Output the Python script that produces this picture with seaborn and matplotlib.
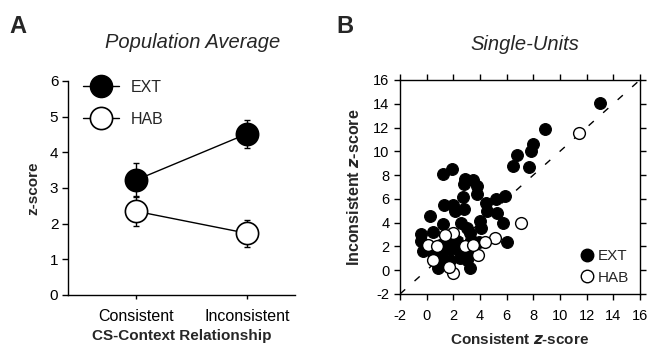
import numpy as np
import pandas as pd
import matplotlib
matplotlib.use("Agg")
import matplotlib.pyplot as plt
from matplotlib.lines import Line2D
import seaborn as sns

# ---------------- data ----------------
conditions = ["Consistent", "Inconsistent"]
ext_mean = [3.22, 4.52]
ext_sem = [0.47, 0.40]
hab_mean = [2.35, 1.73]
hab_sem = [0.42, 0.38]

ext_x = [13.0, 8.9, 8.0, 7.85, 6.8, 6.5, 7.7, 1.2, 1.9, 2.9, 3.45, 2.8, 3.75, 3.8, 2.75,
         5.85, 5.2, 4.45, 1.3, 2.0, 2.1, 2.8, 4.5, 5.3, 0.25, 4.0, 2.6, 5.75, 1.25, 4.1,
         3.05, 0.5, 3.25, -0.45, -0.45, 6.0, 3.95, 3.35, 1.85, 2.25, 1.5, 1.0, 0.0, -0.25,
         0.5, 1.25, 1.85, 2.5, 3.1, 1.0, 1.75, 2.5, 3.25, 0.85, 2.25, 3.0]
ext_y = [14.1, 11.9, 10.6, 10.0, 9.7, 8.8, 8.7, 8.1, 8.5, 7.7, 7.6, 7.25, 7.05, 6.45, 6.2,
         6.25, 5.95, 5.65, 5.5, 5.45, 4.95, 5.15, 4.95, 4.85, 4.55, 4.1, 4.0, 3.95, 3.85, 3.55,
         3.55, 3.25, 3.15, 3.05, 2.45, 2.35, 2.35, 2.55, 2.85, 2.45, 2.45, 2.15, 2.0, 1.6,
         1.45, 1.65, 1.75, 1.6, 1.45, 0.9, 0.9, 1.05, 0.2, 0.2, 2.0, 0.9]
hab_x = [11.4, 7.1, 5.1, 4.35, 3.85, 2.0, 1.7, 0.5, 0.1, 2.0, 1.35, 2.85, 0.75, 3.5]
hab_y = [11.5, 4.0, 2.75, 2.35, 1.3, -0.25, 0.25, 0.9, 2.15, 3.1, 3.0, 2.0, 2.0, 2.15]

# ---------------- style ----------------
sns.set_theme(style="ticks")
plt.rcParams["font.family"] = ["Liberation Sans", "DejaVu Sans"]
plt.rcParams["axes.unicode_minus"] = False
plt.rcParams["axes.linewidth"] = 1.0
plt.rcParams["xtick.major.width"] = 1.0
plt.rcParams["ytick.major.width"] = 1.0
plt.rcParams["xtick.major.size"] = 4
plt.rcParams["ytick.major.size"] = 4
plt.rcParams["xtick.color"] = "black"
plt.rcParams["ytick.color"] = "black"
plt.rcParams["axes.edgecolor"] = "black"

fig = plt.figure(figsize=(6.5, 3.46), dpi=100)
axA = fig.add_axes([0.1046, 0.1474, 0.349, 0.6185])
axB = fig.add_axes([0.6154, 0.1503, 0.369, 0.6185])

# ---------------- panel A ----------------
xpos = [0, 1]
dfA = pd.DataFrame({
    "x": xpos * 2,
    "z": ext_mean + hab_mean,
    "group": ["EXT"] * 2 + ["HAB"] * 2,
})
axA.errorbar(xpos, ext_mean, yerr=ext_sem, fmt="none", ecolor="black",
             elinewidth=1, capsize=2.5, zorder=2)
axA.errorbar(xpos, hab_mean, yerr=hab_sem, fmt="none", ecolor="black",
             elinewidth=1, capsize=2.5, zorder=2)
sns.lineplot(data=dfA, x="x", y="z", hue="group", style="group",
             palette={"EXT": "black", "HAB": "black"},
             markers={"EXT": "o", "HAB": "o"}, dashes=False,
             linewidth=1, ax=axA, legend=False, zorder=3)
data_lines = [ln for ln in axA.lines if len(ln.get_xdata()) == 2]
for ln, face in zip(data_lines[-2:], ["black", "white"]):
    ln.set_markersize(16)
    ln.set_markerfacecolor(face)
    ln.set_markeredgecolor("black")
    ln.set_markeredgewidth(1.2)
    ln.set_zorder(4)

axA.set_xlim(-0.61, 1.43)
axA.set_ylim(0, 6)
axA.set_yticks(range(0, 7))
axA.set_xticks(xpos)
axA.set_xticklabels(conditions, fontsize=11.5)
axA.tick_params(axis="y", labelsize=11, direction="out", pad=3)
axA.tick_params(axis="x", direction="out", length=3, pad=7)
axA.set_xlabel("CS-Context Relationship", fontsize=11, fontweight="bold", labelpad=4)
axA.set_ylabel("z-score", fontsize=11, fontweight="bold", labelpad=7)
sns.despine(ax=axA)
axA.text(0.55, 1.178, "Population Average", transform=axA.transAxes,
         fontsize=14.5, style="italic", ha="center", va="center")

legA = [Line2D([0], [0], color="black", lw=1, marker="o", markersize=16,
               markerfacecolor="black", markeredgecolor="black", label="EXT"),
        Line2D([0], [0], color="black", lw=1, marker="o", markersize=16,
               markerfacecolor="white", markeredgecolor="black", markeredgewidth=1.2,
               label="HAB")]
axA.legend(handles=legA, loc="upper left", bbox_to_anchor=(0.04, 1.035), frameon=False,
           fontsize=11.5, handlelength=2.2, labelspacing=1.05, handletextpad=0.75,
           borderaxespad=0)

# ---------------- panel B ----------------
dfB = pd.DataFrame({
    "cons": ext_x + hab_x,
    "incons": ext_y + hab_y,
    "group": ["EXT"] * len(ext_x) + ["HAB"] * len(hab_x),
})
axB.plot([-2, 16], [-2, 16], color="black", lw=1, dashes=(5, 9), zorder=1)
sns.scatterplot(data=dfB[dfB.group == "EXT"], x="cons", y="incons", ax=axB,
                color="black", edgecolor="black", s=72, linewidth=0.8,
                legend=False, zorder=3)
sns.scatterplot(data=dfB[dfB.group == "HAB"], x="cons", y="incons", ax=axB,
                color="white", edgecolor="black", s=72, linewidth=1.0,
                legend=False, zorder=4)
axB.set_xlim(-2, 16)
axB.set_ylim(-2, 16)
axB.set_xticks(range(-2, 17, 2))
axB.set_yticks(range(-2, 17, 2))
axB.tick_params(axis="both", which="both", direction="out", labelsize=10.5,
                top=True, right=True, labeltop=False, labelright=False, length=4)
axB.tick_params(axis="x", pad=7)
axB.set_xlabel("Consistent $\\mathbfit{z}$-score", fontsize=11, fontweight="bold",
               labelpad=6)
axB.set_ylabel("Inconsistent $\\mathbfit{z}$-score", fontsize=11.5, fontweight="bold",
               labelpad=8)
axB.text(0.52, 1.164, "Single-Units", transform=axB.transAxes,
         fontsize=14.5, style="italic", ha="center", va="center")

legB = [Line2D([0], [0], lw=0, marker="o", markersize=9, markerfacecolor="black",
               markeredgecolor="black", label="EXT"),
        Line2D([0], [0], lw=0, marker="o", markersize=9, markerfacecolor="white",
               markeredgecolor="black", markeredgewidth=1.0, label="HAB")]
axB.legend(handles=legB, loc="lower right", bbox_to_anchor=(0.995, 0.0),
           frameon=False, fontsize=11,
           handlelength=0.9, handletextpad=0.3, labelspacing=0.5,
           borderaxespad=0.2)

# panel letters
fig.text(0.015, 0.905, "A", fontsize=17, fontweight="bold")
fig.text(0.517, 0.905, "B", fontsize=17, fontweight="bold")

fig.savefig("out.png", dpi=100)
